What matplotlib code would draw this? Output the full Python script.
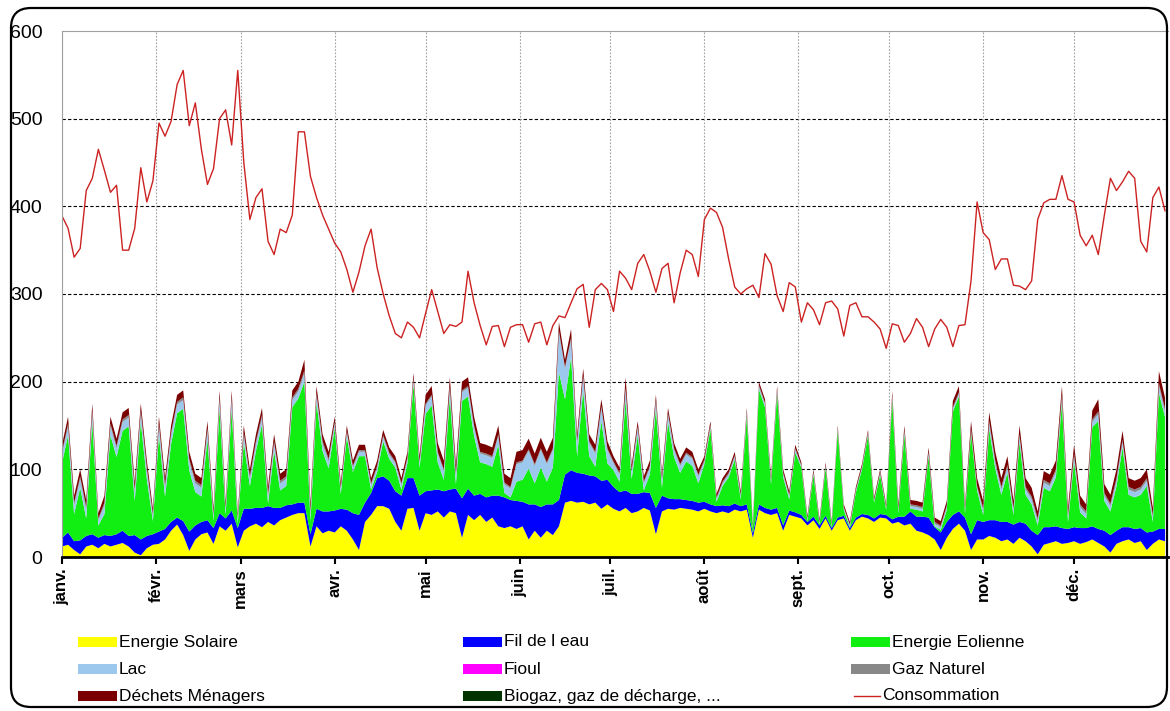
import numpy as np
import matplotlib
matplotlib.use("Agg")
import matplotlib.pyplot as plt
from matplotlib.patches import FancyBboxPatch, Rectangle
from matplotlib.lines import Line2D

# ---- data: one sample every two days (day 0, 2, ..., 364) ----
STEP = 2
MONTHS = ["janv.", "févr.", "mars", "avr.", "mai", "juin", "juil.", "août",
          "sept.", "oct.", "nov.", "déc."]
MONTH_DAYS = [31, 28, 31, 30, 31, 30, 31, 31, 30, 31, 30, 31]

CONSOMMATION = [
    389, 375, 342, 352, 418, 432, 465, 441, 416, 424, 350, 350, 375, 444, 405, 429,   # janv.
    495, 480, 497, 539, 555, 492, 518, 465, 425, 443, 500, 510, 470, 555,             # févr.
    450, 385, 410, 420, 360, 345, 374, 370, 390, 485, 485, 434, 410, 390, 374,        # mars
    358, 348, 328, 302, 325, 355, 374, 330, 300, 275, 255, 250, 268, 262, 250,        # avr.
    278, 305, 280, 255, 265, 263, 268, 326, 290, 264, 242, 263, 264, 240, 262,        # mai
    265, 265, 245, 266, 268, 242, 264, 275, 273, 290, 306, 311, 262, 305, 312, 305,   # juin
    280, 326, 318, 305, 335, 345, 326, 302, 329, 335, 290, 324, 350, 345, 320,        # juil.
    385, 398, 393, 376, 340, 308, 300, 306, 310, 296, 346, 334, 298, 280, 313, 308,   # août
    268, 290, 282, 265, 290, 292, 283, 252, 287, 290, 274, 274, 268, 260, 238,        # sept.
    266, 264, 245, 255, 272, 262, 240, 260, 271, 262, 240, 264, 265, 315, 405,        # oct.
    370, 362, 328, 340, 340, 310, 309, 305, 315, 385, 404, 408, 408, 435, 408,        # nov.
    405, 367, 355, 367, 345, 390, 432, 418, 428, 440, 432, 360, 348, 410, 422, 395,   # déc.
]

SOLAIRE = [
    12, 14, 8, 3, 12, 14, 10, 15, 12, 14, 16, 12, 5, 2, 10, 14,
    15, 20, 30, 37, 25, 7, 20, 26, 28, 15, 35, 30, 38, 11,
    30, 35, 38, 34, 40, 36, 42, 45, 48, 50, 50, 12, 35, 27, 30,
    28, 35, 30, 20, 8, 40, 48, 58, 58, 55, 40, 30, 55, 56, 30,
    50, 48, 52, 45, 52, 50, 22, 48, 42, 48, 40, 45, 35, 33, 35,
    32, 35, 20, 30, 22, 30, 25, 35, 62, 64, 62, 63, 60, 62, 55, 60,
    55, 52, 56, 50, 52, 56, 53, 26, 52, 55, 54, 56, 55, 54, 52,
    55, 52, 50, 52, 50, 54, 52, 54, 22, 54, 50, 48, 50, 30, 48, 46,
    44, 36, 42, 32, 44, 30, 42, 44, 30, 42, 46, 44, 40, 45, 44,
    38, 40, 36, 38, 30, 28, 25, 20, 8, 22, 32, 38, 30, 8, 20,
    20, 24, 22, 18, 20, 15, 22, 18, 12, 3, 14, 16, 18, 15, 16,
    18, 15, 17, 20, 16, 12, 5, 15, 18, 20, 16, 18, 8, 15, 20, 18,
]

FIL_EAU = [
    10, 14, 10, 16, 12, 12, 12, 10, 12, 12, 14, 12, 20, 18, 14, 12,
    14, 12, 10, 8, 16, 22, 16, 14, 14, 18, 15, 14, 15, 22,
    25, 20, 18, 22, 18, 20, 14, 14, 12, 12, 12, 14, 20, 25, 22,
    25, 20, 24, 30, 40, 22, 25, 32, 34, 32, 35, 40, 35, 34, 40,
    25, 28, 25, 30, 25, 28, 45, 30, 28, 24, 28, 25, 35, 35, 30,
    32, 28, 40, 30, 35, 30, 35, 30, 32, 35, 34, 32, 33, 30, 32, 28,
    25, 22, 20, 22, 20, 18, 20, 30, 18, 12, 12, 10, 10, 10, 10,
    8, 8, 8, 7, 8, 7, 6, 6, 5, 6, 6, 6, 6, 6, 5, 5,
    4, 4, 4, 4, 3, 3, 3, 3, 3, 3, 3, 4, 4, 4, 4,
    5, 6, 10, 14, 16, 18, 20, 14, 20, 18, 16, 14, 15, 18, 22,
    20, 18, 20, 22, 20, 22, 18, 20, 18, 22, 20, 18, 17, 18, 16,
    16, 18, 16, 15, 16, 18, 20, 15, 16, 14, 16, 15, 20, 14, 12, 14,
]

EOLIENNE = [
    85, 111, 31, 60, 20, 128, 14, 24, 115, 88, 114, 125, 39, 134, 65, 15,
    110, 37, 89, 119, 128, 70, 38, 29, 92, 8, 119, 4, 116, 5,
    76, 26, 65, 95, 3, 65, 20, 22, 111, 119, 138, 15, 121, 69, 49,
    94, 17, 83, 47, 67, 53, 4, 7, 40, 25, 27, 7, 17, 107, 32,
    88, 97, 31, 13, 106, 5, 111, 105, 68, 36, 38, 33, 58, 5, 3,
    22, 25, 41, 24, 45, 26, 42, 146, 86, 129, 19, 95, 22, 11, 68, 19,
    19, 12, 103, 17, 67, 2, 21, 113, 9, 87, 48, 30, 44, 40, 22,
    43, 86, 5, 22, 33, 50, 8, 101, 5, 131, 115, 29, 130, 55, 13, 68,
    54, 1, 48, 1, 55, 1, 99, 7, 1, 29, 51, 91, 18, 45, 6,
    136, 4, 94, 3, 8, 6, 70, 1, 3, 14, 118, 131, 5, 115, 34,
    8, 104, 59, 31, 56, 11, 91, 33, 30, 11, 45, 41, 56, 143, 8,
    75, 18, 11, 113, 123, 34, 27, 51, 91, 37, 36, 38, 53, 11, 155, 128,
]

LAC = [
    10, 10, 10, 10, 10, 10, 6, 10, 10, 10, 10, 10, 10, 10, 10, 6,
    10, 10, 10, 10, 10, 10, 10, 10, 10, 6, 10, 6, 10, 5,
    8, 8, 8, 8, 8, 8, 8, 8, 8, 8, 10, 8, 8, 8, 8,
    5, 5, 5, 5, 5, 5, 5, 5, 5, 5, 5, 5, 5, 5, 5,
    10, 10, 10, 10, 10, 10, 10, 10, 10, 10, 10, 10, 10, 10, 10,
    20, 20, 20, 20, 20, 20, 20, 45, 35, 20, 15, 15, 15, 15, 15, 15,
    8, 8, 12, 8, 8, 8, 8, 8, 8, 8, 8, 8, 8, 8, 8,
    3, 3, 3, 3, 3, 3, 3, 3, 2, 3, 3, 3, 3, 3, 3, 3,
    2, 2, 2, 2, 2, 2, 2, 2, 2, 2, 2, 2, 2, 2, 2,
    3, 3, 3, 3, 3, 3, 3, 3, 3, 3, 3, 3, 3, 3, 3,
    5, 6, 6, 6, 6, 5, 6, 6, 6, 5, 6, 6, 6, 6, 5,
    6, 6, 5, 6, 8, 6, 6, 6, 6, 6, 6, 6, 6, 5, 8, 6,
]

GAZ = [
    3, 3, 3, 3, 3, 3, 2, 3, 3, 3, 3, 3, 3, 3, 3, 2,
    3, 3, 3, 3, 3, 3, 3, 3, 3, 2, 3, 2, 3, 2,
    3, 3, 3, 3, 3, 3, 3, 3, 3, 3, 3, 3, 3, 3, 3,
    2, 2, 2, 2, 2, 2, 2, 2, 2, 2, 2, 2, 2, 2, 2,
    2, 2, 2, 2, 2, 2, 2, 2, 2, 2, 2, 2, 2, 2, 2,
    2, 2, 2, 2, 2, 2, 2, 2, 2, 2, 2, 2, 2, 2, 2, 2,
    2, 2, 2, 2, 2, 2, 2, 2, 2, 2, 2, 2, 2, 2, 2,
    2, 2, 2, 2, 2, 2, 2, 2, 1, 2, 2, 2, 2, 2, 2, 2,
    1, 1, 1, 1, 1, 1, 1, 1, 1, 1, 1, 1, 1, 1, 1,
    2, 2, 2, 2, 2, 2, 2, 2, 2, 2, 2, 2, 2, 2, 2,
    3, 3, 3, 3, 3, 3, 3, 3, 3, 3, 3, 3, 3, 3, 3,
    3, 3, 3, 3, 3, 3, 3, 3, 3, 3, 3, 3, 3, 3, 3, 3,
]

DECHETS = [
    8, 8, 8, 8, 8, 8, 6, 8, 8, 8, 8, 8, 8, 8, 8, 6,
    8, 8, 8, 8, 8, 8, 8, 8, 8, 6, 8, 6, 8, 5,
    8, 8, 8, 8, 8, 8, 8, 8, 8, 8, 12, 8, 8, 8, 8,
    6, 6, 6, 6, 6, 6, 6, 6, 6, 6, 6, 6, 6, 6, 6,
    10, 10, 10, 10, 10, 10, 10, 10, 10, 10, 10, 10, 10, 10, 10,
    12, 12, 12, 12, 12, 12, 12, 10, 8, 10, 8, 8, 8, 8, 8, 8,
    6, 6, 12, 6, 6, 6, 6, 6, 6, 6, 6, 6, 6, 6, 6,
    4, 4, 4, 4, 4, 4, 4, 4, 3, 4, 4, 4, 4, 4, 4, 4,
    3, 3, 3, 3, 3, 3, 3, 3, 3, 3, 3, 3, 3, 3, 3,
    5, 5, 5, 5, 5, 5, 5, 5, 5, 5, 7, 7, 5, 9, 9,
    8, 10, 10, 10, 10, 8, 10, 10, 10, 8, 10, 10, 10, 10, 8,
    10, 10, 8, 10, 14, 10, 10, 10, 10, 10, 10, 10, 10, 8, 14, 13,
]

N = len(CONSOMMATION)
FIOUL = [0] * N     # no visible contribution
BIOGAZ = [0] * N    # no visible contribution

SERIES = [
    ("Energie Solaire", SOLAIRE, "#FFFF00"),
    ("Fil de l eau", FIL_EAU, "#0000FF"),
    ("Energie Eolienne", EOLIENNE, "#11EE11"),
    ("Lac", LAC, "#9CC8EE"),
    ("Fioul", FIOUL, "#FF00FF"),
    ("Gaz Naturel", GAZ, "#888888"),
    ("Déchets Ménagers", DECHETS, "#7A0000"),
    ("Biogaz, gaz de décharge, ...", BIOGAZ, "#003300"),
]
CONSO_COLOR = "#CC2222"

W, H = 1170, 711
NARROW = ["Liberation Sans Narrow", "Liberation Sans", "DejaVu Sans"]
REG = ["Liberation Sans", "DejaVu Sans"]


def fx(px):
    return px / W


def fy(py):
    return 1 - py / H


def main():
    for _, vals, _ in SERIES:
        assert len(vals) == N, len(vals)
    days = np.arange(N) * STEP

    fig = plt.figure(figsize=(W / 100, H / 100), dpi=100)
    fig.patch.set_facecolor("white")
    ax = fig.add_axes([fx(62), fy(557), fx(1168) - fx(62), fy(31) - fy(557)])

    ax.stackplot(days, *[v for _, v, _ in SERIES],
                 colors=[c for _, _, c in SERIES], linewidth=0)
    ax.plot(days, CONSOMMATION, color=CONSO_COLOR, linewidth=1.0)

    ax.set_xlim(0, 365)
    ax.set_ylim(0, 600)
    starts = np.concatenate([[0], np.cumsum(MONTH_DAYS)[:-1]])
    ax.set_xticks(starts)
    ax.set_xticklabels(MONTHS, rotation=90, fontsize=12, fontweight="bold",
                       family=REG, va="top")
    ax.set_yticks(range(0, 601, 100))
    ax.set_yticklabels([str(v) for v in range(0, 601, 100)], fontsize=14, family=REG)
    ax.tick_params(axis="y", length=0, pad=14)
    ax.tick_params(axis="x", length=5, width=1.5, color="black", pad=3)

    ax.set_axisbelow(True)
    ax.xaxis.grid(True, linestyle=(0, (1.5, 1.5)), color="#A0A0A0", linewidth=0.8)
    for y in range(100, 600, 100):
        ax.axhline(y, color="black", linestyle=(0, (3, 2)), linewidth=0.8, zorder=0.5)

    ax.spines["right"].set_visible(False)
    ax.spines["top"].set_color("#A0A0A0")
    ax.spines["left"].set_color("#A0A0A0")
    ax.spines["bottom"].set_color("black")
    ax.spines["bottom"].set_linewidth(2.0)
    ax.spines["bottom"].set_zorder(5)

    # legend, Excel style: three rows of three entries
    col_x = [78, 463, 851]
    row_y = [642, 669, 696]
    entries = [(n, c, "patch") for n, _, c in SERIES] + [("Consommation", CONSO_COLOR, "line")]
    for i, (name, color, kind) in enumerate(entries):
        x0, y0 = col_x[i % 3], row_y[i // 3]
        if kind == "patch":
            fig.patches.append(Rectangle((fx(x0), fy(y0 + 5)), fx(39), 10 / H,
                                         transform=fig.transFigure,
                                         facecolor=color, edgecolor="none"))
        else:
            fig.lines.append(Line2D([fx(x0 + 3), fx(x0 + 29)], [fy(y0), fy(y0)],
                                    transform=fig.transFigure,
                                    color=color, linewidth=1.0))
        tx = x0 + 41 if kind == "patch" else x0 + 31
        fig.text(fx(tx), fy(y0), name, fontsize=12.5, family=NARROW,
                 va="center", ha="left", color="black")

    # rounded outer frame of the chart object
    fig.patches.append(FancyBboxPatch((0.11, 0.04), 11.56, 6.99,
                                      boxstyle="round,pad=0,rounding_size=0.2",
                                      transform=fig.dpi_scale_trans,
                                      fill=False, edgecolor="black", linewidth=1.6))

    fig.savefig("out.png", dpi=100, facecolor="white")


if __name__ == "__main__":
    main()
